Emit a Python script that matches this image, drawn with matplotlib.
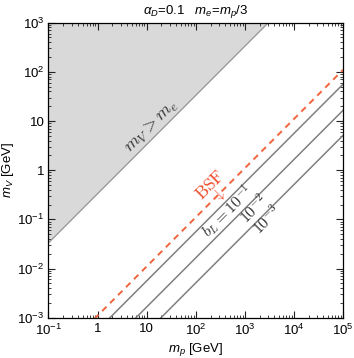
import numpy as np
import matplotlib
matplotlib.use("Agg")
import matplotlib.pyplot as plt
from matplotlib.ticker import FixedLocator, LogLocator, NullFormatter

plt.rcParams['font.family'] = ['Liberation Sans', 'DejaVu Sans']
plt.rcParams['mathtext.fontset'] = 'custom'
plt.rcParams['mathtext.rm'] = 'Liberation Sans'
plt.rcParams['mathtext.it'] = 'Liberation Sans:italic'
plt.rcParams['mathtext.bf'] = 'Liberation Sans:bold'

# ---- data ----
x_limits = [1e-1, 1e5]
y_limits = [1e-3, 1e3]
me_over_mp = 1.0 / 3.0            # kinematic boundary mV = me = mp/3
bsf_ratio = 1.1e-3                # BSF line: mV / mp
bL_ratios = [5.6e-4, 1.65e-4, 5.1e-5]
bL_labels = [r"$b_L = 10^{-1}$", r"$10^{-2}$", r"$10^{-3}$"]
bL_label_pos = [(454, 0.148), (1468, 0.163), (2700, 0.098)]
x_ticks = [1e-1, 1, 10, 1e2, 1e3, 1e4, 1e5]
x_ticklabels = [r"$10^{-1}$", "1", "10", r"$10^{2}$", r"$10^{3}$", r"$10^{4}$", r"$10^{5}$"]
y_ticks = [1e-3, 1e-2, 1e-1, 1, 10, 1e2, 1e3]
y_ticklabels = [r"$10^{-3}$", r"$10^{-2}$", r"$10^{-1}$", "1", "10", r"$10^{2}$", r"$10^{3}$"]

mp = np.logspace(np.log10(x_limits[0]), np.log10(x_limits[1]), 400)

fig = plt.figure(figsize=(3.54, 3.58), dpi=100)
ax = fig.add_axes([0.137, 0.1126, 0.832, 0.824])
ax.set_xscale('log')
ax.set_yscale('log')

# excluded region mV > me
ax.fill_between(mp, mp * me_over_mp, y_limits[1] * 10, color='#d9d9d9', lw=0, zorder=1)
ax.plot(mp, mp * me_over_mp, color='#999999', lw=0.9, zorder=2)

# BSF line
ax.plot(mp, mp * bsf_ratio, color='#f0643c', lw=1.4, ls=(0, (3.2, 2.6)), zorder=3)
for r in bL_ratios:
    ax.plot(mp, mp * r, color='#808080', lw=1.1, zorder=3)

ax.set_xlim(*x_limits)
ax.set_ylim(*y_limits)

# labels along lines
ax.text(12.9, 7.57, r"$m_V > m_e$", rotation=45, ha='center', va='center',
        fontsize=13, color='#333333', math_fontfamily='cm', rotation_mode='anchor')
ax.text(195, 0.50, r"$\mathrm{BSF}$", rotation=45, ha='center', va='center', fontsize=12.5,
        color='#ee4a2a', math_fontfamily='cm', rotation_mode='anchor')
ax.text(300, 0.32, r"$\downarrow$", rotation=45, ha='center', va='center', fontsize=11,
        color='#ee4a2a', math_fontfamily='cm', rotation_mode='anchor')
for (xp, yp), lab in zip(bL_label_pos, bL_labels):
    ax.text(xp, yp, lab, rotation=45, ha='center', va='center', fontsize=11.5,
            color='#333333', math_fontfamily='cm', rotation_mode='anchor')

# ticks
ax.xaxis.set_major_locator(FixedLocator(x_ticks))
ax.set_xticklabels(x_ticklabels)
ax.yaxis.set_major_locator(FixedLocator(y_ticks))
ax.set_yticklabels(y_ticklabels)
ax.xaxis.set_minor_locator(LogLocator(base=10, subs=np.arange(2, 10), numticks=20))
ax.yaxis.set_minor_locator(LogLocator(base=10, subs=np.arange(2, 10), numticks=20))
ax.xaxis.set_minor_formatter(NullFormatter())
ax.yaxis.set_minor_formatter(NullFormatter())
ax.tick_params(which='both', direction='in', top=True, right=True, labelsize=9.5, color='#222222')
ax.tick_params(which='major', length=5, width=0.8)
ax.tick_params(which='minor', length=2.5, width=0.6)
ax.tick_params(axis='x', which='major', pad=4)
ax.tick_params(axis='y', which='major', pad=3)
for s in ax.spines.values():
    s.set_linewidth(0.9)
    s.set_zorder(5)

ax.set_xlabel(r"$m_p$ [GeV]", fontsize=9.5, labelpad=2)
ax.set_ylabel(r"$m_V$ [GeV]", fontsize=9.5, labelpad=1)
ax.set_title(r"$\alpha_D$=0.1   $m_e$=$m_p$/3", fontsize=9.5, pad=6)

fig.savefig("out.png", dpi=100)
